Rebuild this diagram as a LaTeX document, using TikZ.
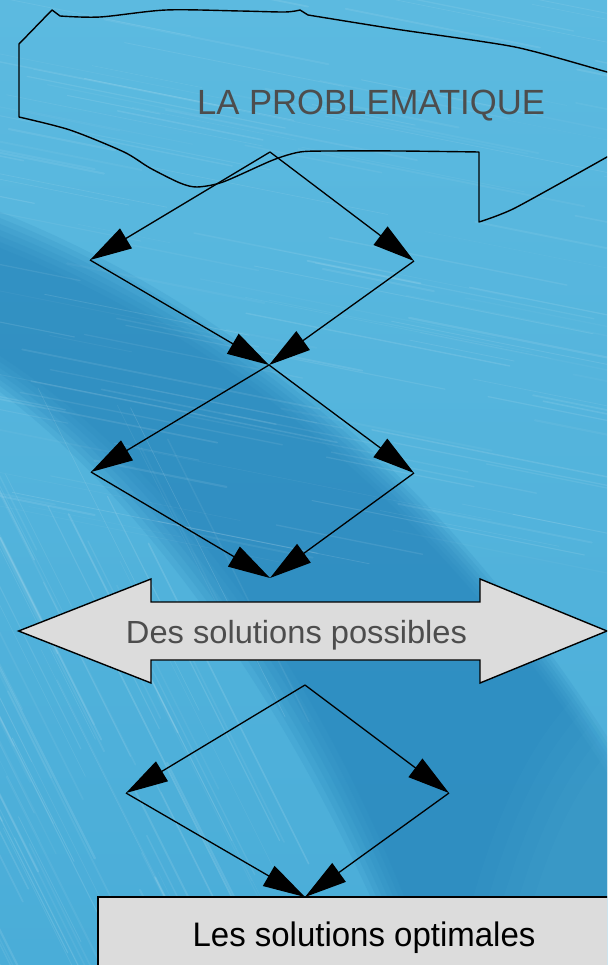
\documentclass[tikz,border=0pt]{standalone}
\usepackage{fontspec}
\setmainfont{Liberation Sans}
\usetikzlibrary{arrows.meta}

\definecolor{seaLight}{HTML}{5CBAE0}
\definecolor{seaMid}{HTML}{4AADD8}
\definecolor{seaDark}{HTML}{2482B9}
\definecolor{panel}{HTML}{DCDCDC}
\definecolor{inkgrey}{HTML}{4D4D4D}

\tikzset{
  flow/.style={draw=black, line width=1.3pt, -{Triangle[length=42pt,width=23pt]}},
  sketch/.style={draw=black, line width=1.4pt, line join=round},
  panelshape/.style={fill=panel, draw=black, line width=1.4pt},
  caption/.style={inner sep=0pt, anchor=base},
}

\begin{document}
\begin{tikzpicture}[x=1pt, y=-1pt]
\useasboundingbox (0,0) rectangle (607,965);

\begin{scope}
  \clip (0,0) rectangle (607,965);
  % sea-blue backdrop
  \shade[top color=seaLight, bottom color=seaMid] (0,0) rectangle (607,965);
  % darker sweeping band, soft edges built from layered fills
  \foreach \d in {0,6,12,18,24,30,36} {
    \fill[seaDark, opacity=0.15]
      (0,{212+\d}) .. controls (220,{300+\d}) and (450,{470+\d}) .. (640,{790+\d})
      -- (640,990) -- ({410+\d*0.8},990)
      .. controls ({320+\d*0.8},{760-\d}) and ({170+\d*0.8},{520-\d}) .. (0,{392-\d}) -- cycle;
  }
  % soft lighter sheen on the lower right
  \foreach \d in {0,15,30,45,60} {
    \fill[seaLight, opacity=0.06]
      (640,{640+\d}) .. controls ({560+\d},{700+\d}) and ({500+\d},760) .. ({450+\d},990) -- (640,990) -- cycle;
  }
  % fine light streaks
  \pgfmathsetseed{11}
  \foreach \i in {1,...,140} {
    \pgfmathsetmacro\sx{rnd*760-120}
    \pgfmathsetmacro\sy{rnd*560-20}
    \pgfmathsetmacro\sl{80+rnd*280}
    \pgfmathsetmacro\so{0.03+rnd*0.08}
    \pgfmathsetmacro\sw{0.5+rnd*1.6}
    \draw[white, opacity=\so, line width=\sw pt, line cap=round]
      (\sx,\sy) -- ++(\sl,{0.2*\sl});
  }
  \foreach \i in {1,...,90} {
    \pgfmathsetmacro\sx{rnd*380-200}
    \pgfmathsetmacro\sy{380+rnd*520}
    \pgfmathsetmacro\sl{120+rnd*260}
    \pgfmathsetmacro\so{0.04+rnd*0.09}
    \pgfmathsetmacro\sw{0.5+rnd*1.8}
    \draw[white, opacity=\so, line width=\sw pt, line cap=round]
      (\sx,\sy) -- ++({0.5*\sl},{\sl});
  }

  % freehand outline round the heading
  \draw[sketch] (19,117) -- (19,44) -- (52,10) -- (60,16)
    -- plot[smooth, tension=0.5] coordinates {(60,16) (100,17) (166,10) (240,11) (285,12) (300,10)}
    -- (308,15)
    -- plot[smooth, tension=0.4] coordinates {(308,15) (395,29) (515,47) (607,72) (640,82)}
    -- (640,140)
    -- plot[smooth, tension=0.4] coordinates {(607,157) (515,208) (479,222)}
    -- (479,152)
    -- plot[smooth, tension=0.45] coordinates {(479,152) (400,151) (330,151) (300,152) (273,160) (223,182) (197,187) (180,183) (150,168) (124,152) (70,130) (19,117)}
    -- cycle;

  % bottom panel
  \draw[panelshape] (98,897) rectangle (625,985);
  \node[caption, text=black] (optimales) at (364,946)
    {\scalebox{0.97}[1]{\fontsize{34}{40}\selectfont Les solutions optimales}};

  % double-headed arrow
  \draw[panelshape] (18.6,631) -- (151,579) -- (151,602) -- (480,602) -- (480,579)
    -- (607,631) -- (480,683) -- (480,660) -- (151,660) -- (151,683) -- cycle;
  \node[caption, text=inkgrey] (possibles) at (296.5,643)
    {\scalebox{1.02}[1]{\fontsize{32}{38}\selectfont Des solutions possibles}};

  % heading
  \node[caption, text=inkgrey] (problematique) at (371,115)
    {\scalebox{0.99}[1]{\fontsize{35}{40}\selectfont LA PROBLEMATIQUE}};

  % branching arrows
  \coordinate (t1) at (270,152);
  \coordinate (l1) at (90,260);
  \coordinate (r1) at (414,261);
  \coordinate (b1) at (269,365);
  \coordinate (l2) at (91,472);
  \coordinate (r2) at (414,473);
  \coordinate (b2) at (270,578);
  \coordinate (t3) at (305,685);
  \coordinate (l3) at (126,793);
  \coordinate (r3) at (449,793);
  \coordinate (b3) at (305,897);

  \draw[flow] (t1) -- (l1);
  \draw[flow] (t1) -- (r1);
  \draw[flow] (l1) -- (b1);
  \draw[flow] (r1) -- (b1);
  \draw[flow] (b1) -- (l2);
  \draw[flow] (b1) -- (r2);
  \draw[flow] (l2) -- (b2);
  \draw[flow] (r2) -- (b2);
  \draw[flow] (t3) -- (l3);
  \draw[flow] (t3) -- (r3);
  \draw[flow] (l3) -- (b3);
  \draw[flow] (r3) -- (b3);
\end{scope}
\end{tikzpicture}
\end{document}
